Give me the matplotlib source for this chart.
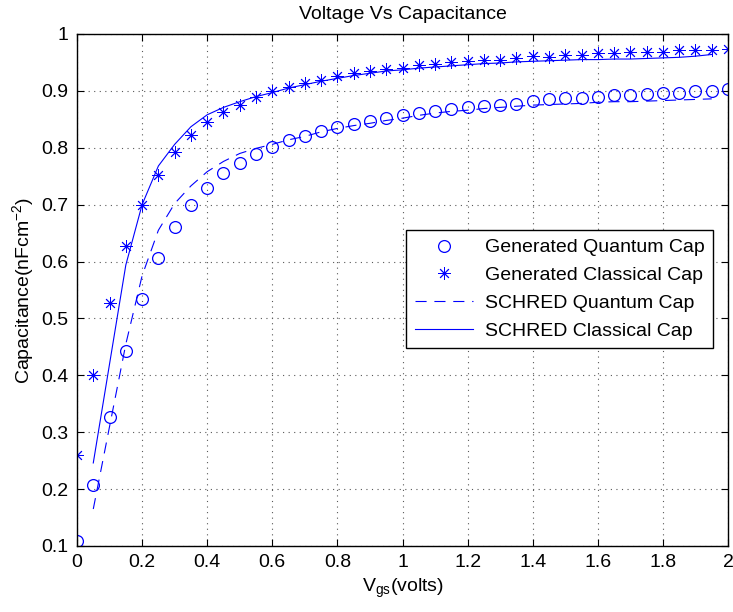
import numpy as np
import matplotlib
matplotlib.use('Agg')
import matplotlib.pyplot as plt

plt.rcParams['font.family'] = ['Liberation Sans', 'DejaVu Sans']
plt.rcParams['mathtext.fontset'] = 'custom'
plt.rcParams['mathtext.rm'] = 'Liberation Sans'
plt.rcParams['mathtext.it'] = 'Liberation Sans'

# generated points, Vgs = 0 .. 2 step 0.05
vgs_gen = [0.00, 0.05, 0.10, 0.15, 0.20, 0.25, 0.30, 0.35, 0.40, 0.45,
           0.50, 0.55, 0.60, 0.65, 0.70, 0.75, 0.80, 0.85, 0.90, 0.95,
           1.00, 1.05, 1.10, 1.15, 1.20, 1.25, 1.30, 1.35, 1.40, 1.45,
           1.50, 1.55, 1.60, 1.65, 1.70, 1.75, 1.80, 1.85, 1.90, 1.95, 2.00]
quantum_gen = [0.109, 0.207, 0.326, 0.443, 0.535, 0.607, 0.660, 0.699, 0.730, 0.755,
               0.773, 0.789, 0.802, 0.814, 0.821, 0.830, 0.836, 0.841, 0.847, 0.852,
               0.858, 0.861, 0.865, 0.868, 0.871, 0.873, 0.875, 0.877, 0.882, 0.885,
               0.887, 0.887, 0.890, 0.892, 0.892, 0.894, 0.897, 0.896, 0.900, 0.900, 0.903]
classical_gen = [0.260, 0.401, 0.528, 0.628, 0.699, 0.752, 0.792, 0.822, 0.846, 0.863,
                 0.876, 0.890, 0.899, 0.907, 0.913, 0.920, 0.926, 0.931, 0.935, 0.938,
                 0.941, 0.945, 0.947, 0.950, 0.953, 0.955, 0.954, 0.958, 0.961, 0.960,
                 0.963, 0.963, 0.966, 0.966, 0.969, 0.969, 0.969, 0.972, 0.971, 0.971, 0.974]

# SCHRED curves, Vgs = 0.05 .. 1.95
vgs_sch = vgs_gen[1:-1]
quantum_sch = [0.165, 0.310, 0.455, 0.575, 0.655, 0.702, 0.733, 0.758, 0.776, 0.790,
               0.799, 0.806, 0.814, 0.820, 0.828, 0.834, 0.839, 0.843, 0.848, 0.852,
               0.857, 0.861, 0.864, 0.866, 0.869, 0.871, 0.873, 0.875, 0.876, 0.877,
               0.878, 0.880, 0.881, 0.881, 0.882, 0.883, 0.884, 0.885, 0.886]
classical_sch = [0.246, 0.420, 0.594, 0.700, 0.768, 0.806, 0.837, 0.858, 0.871, 0.881,
                 0.890, 0.897, 0.905, 0.911, 0.917, 0.922, 0.927, 0.931, 0.935, 0.937,
                 0.940, 0.942, 0.944, 0.946, 0.948, 0.949, 0.951, 0.952, 0.953, 0.954,
                 0.955, 0.955, 0.956, 0.956, 0.957, 0.958, 0.959, 0.961, 0.964]

fig = plt.figure(figsize=(7.33, 6.12), dpi=100)
ax = fig.add_axes([77/733, 66/612, 651/733, 512/612])

ax.plot(vgs_gen, quantum_gen, 'o', color='b', mfc='none', markersize=8.5,
        markeredgewidth=0.9, label='Generated Quantum Cap')
ax.plot(vgs_gen, classical_gen, linestyle='none', marker=(8, 2, 0), color='b',
        markersize=9, markeredgewidth=0.65, label='Generated Classical Cap')
ax.plot(vgs_sch, quantum_sch, color='b', lw=0.8, dashes=(10, 7),
        label='SCHRED Quantum Cap')
ax.plot(vgs_sch, classical_sch, color='b', lw=0.8, label='SCHRED Classical Cap')

ax.set_xlim(0, 2)
ax.set_ylim(0.1, 1)
ax.set_xticks(np.arange(0, 2.01, 0.2))
ax.set_xticklabels(['0', '0.2', '0.4', '0.6', '0.8', '1', '1.2', '1.4', '1.6', '1.8', '2'])
ax.set_yticks(np.arange(0.1, 1.01, 0.1))
ax.set_yticklabels(['0.1', '0.2', '0.3', '0.4', '0.5', '0.6', '0.7', '0.8', '0.9', '1'])
ax.tick_params(direction='in', top=True, right=True, labelsize=14, length=5, pad=6)
ax.grid(True, color='0.35', linestyle=(0, (1, 4)), linewidth=0.8)
for s in ax.spines.values():
    s.set_linewidth(1.0)

ax.set_xlabel('V$_{\\mathrm{gs}}$(volts)', fontsize=14)
ax.set_ylabel('Capacitance(nFcm$^{-2}$)', fontsize=14)
ax.set_title('Voltage Vs Capacitance', fontsize=14, pad=11)

leg = ax.legend(loc='upper right', bbox_to_anchor=(0.977, 0.617), borderaxespad=0,
                fontsize=14, fancybox=False, edgecolor='black', framealpha=1,
                handlelength=3.0, labelspacing=0.52, handletextpad=0.6, borderpad=0.45)
leg.get_frame().set_linewidth(1.0)

plt.savefig('out.png', dpi=100)
